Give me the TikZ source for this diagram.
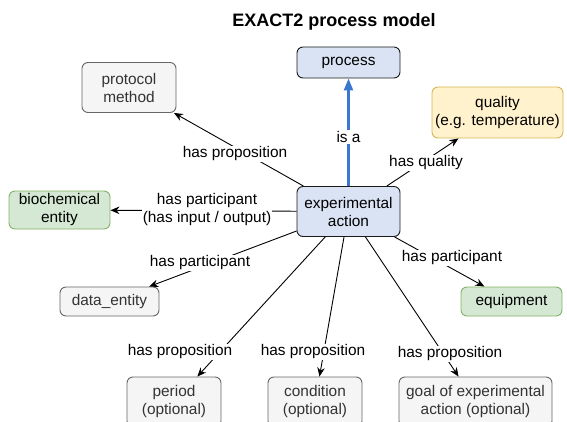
\documentclass[tikz,border=0pt]{standalone}
\usepackage{fontspec}
\setmainfont{Liberation Sans}
\usetikzlibrary{arrows.meta}
\definecolor{bfill}{HTML}{DAE3F3}
\definecolor{bdraw}{HTML}{1A1A1A}
\definecolor{gfill}{HTML}{F5F5F5}
\definecolor{gdraw}{HTML}{666666}
\definecolor{gtext}{HTML}{333333}
\definecolor{grfill}{HTML}{D5E8D4}
\definecolor{grdraw}{HTML}{82B366}
\definecolor{yfill}{HTML}{FFF2CC}
\definecolor{ydraw}{HTML}{D6B656}
\definecolor{isablue}{HTML}{3A78D0}
\newcommand\lblfont{\fontsize{15.4}{18}\selectfont}
\newcommand\ttlfont{\fontsize{18}{21}\selectfont\bfseries}
\tikzset{
  box/.style={rectangle, rounded corners=6pt, draw, line width=0.9pt, align=center, inner sep=1pt, font=\lblfont},
  bluebox/.style={box, fill=bfill, draw=bdraw},
  graybox/.style={box, fill=gfill, draw=gdraw, text=gtext},
  greenbox/.style={box, fill=grfill, draw=grdraw},
  yellowbox/.style={box, fill=yfill, draw=ydraw},
  arr/.style={-{Stealth[length=9pt,width=7.5pt]}, line width=0.9pt},
  isaarr/.style={-{Triangle[length=12pt,width=9pt]}, line width=2.4pt, draw=isablue},
  lbl/.style={fill=white, inner sep=1pt, align=center, font=\lblfont}
}
\begin{document}
\begin{tikzpicture}[x=1pt,y=-1pt]
\useasboundingbox (0,0) rectangle (567,422);
\node[font=\ttlfont] (title) at (334,22) {EXACT2 process model};
% nodes
\node[bluebox, minimum width=103pt, minimum height=31pt] (process) at (348.5,62.5) {process};
\node[graybox, minimum width=94pt, minimum height=50pt] (protocol) at (129,87.5) {protocol\\method};
\node[yellowbox, minimum width=131pt, minimum height=51pt] (quality) at (497.5,112.5) {quality\\(e.g. temperature)};
\node[bluebox, minimum width=103pt, minimum height=50pt] (exp) at (348.5,211.5) {experimental\\action};
\node[greenbox, minimum width=101pt, minimum height=38pt] (bio) at (59.5,210) {biochemical\\entity};
\node[graybox, minimum width=99pt, minimum height=29pt] (data) at (109.5,301.5) {data\_entity};
\node[greenbox, minimum width=101pt, minimum height=29pt] (equip) at (511.5,301.5) {equipment};
\node[graybox, minimum width=94pt, minimum height=50pt] (period) at (174,402) {period\\(optional)};
\node[graybox, minimum width=94pt, minimum height=50pt] (cond) at (315,402) {condition\\(optional)};
\node[graybox, minimum width=153pt, minimum height=50pt] (goal) at (475.5,402) {goal of experimental\\action (optional)};
% connectors
\draw[isaarr] (exp) -- (process);
\draw[arr] (exp) -- (protocol);
\draw[arr] (exp) -- (quality);
\draw[arr] (exp) -- (bio);
\draw[arr] (exp) -- (data);
\draw[arr] (exp) -- (equip);
\draw[arr] (exp) -- (period);
\draw[arr] (exp) -- (cond);
\draw[arr] (exp) -- (goal);
% labels
\node[lbl] (lisa) at (348.5,137) {is a};
\node[lbl] (lprot) at (235,154) {has proposition};
\node[lbl] (lqual) at (426,163) {has quality};
\node[lbl] (lbio) at (207,210) {has participant\\(has input / output)};
\node[lbl] (ldata) at (200,263) {has participant};
\node[lbl] (lequip) at (452,258) {has participant};
\node[lbl] (lper) at (180,352) {has proposition};
\node[lbl] (lcond) at (313,352) {has proposition};
\node[lbl] (lgoal) at (450,354) {has proposition};
\end{tikzpicture}
\end{document}
